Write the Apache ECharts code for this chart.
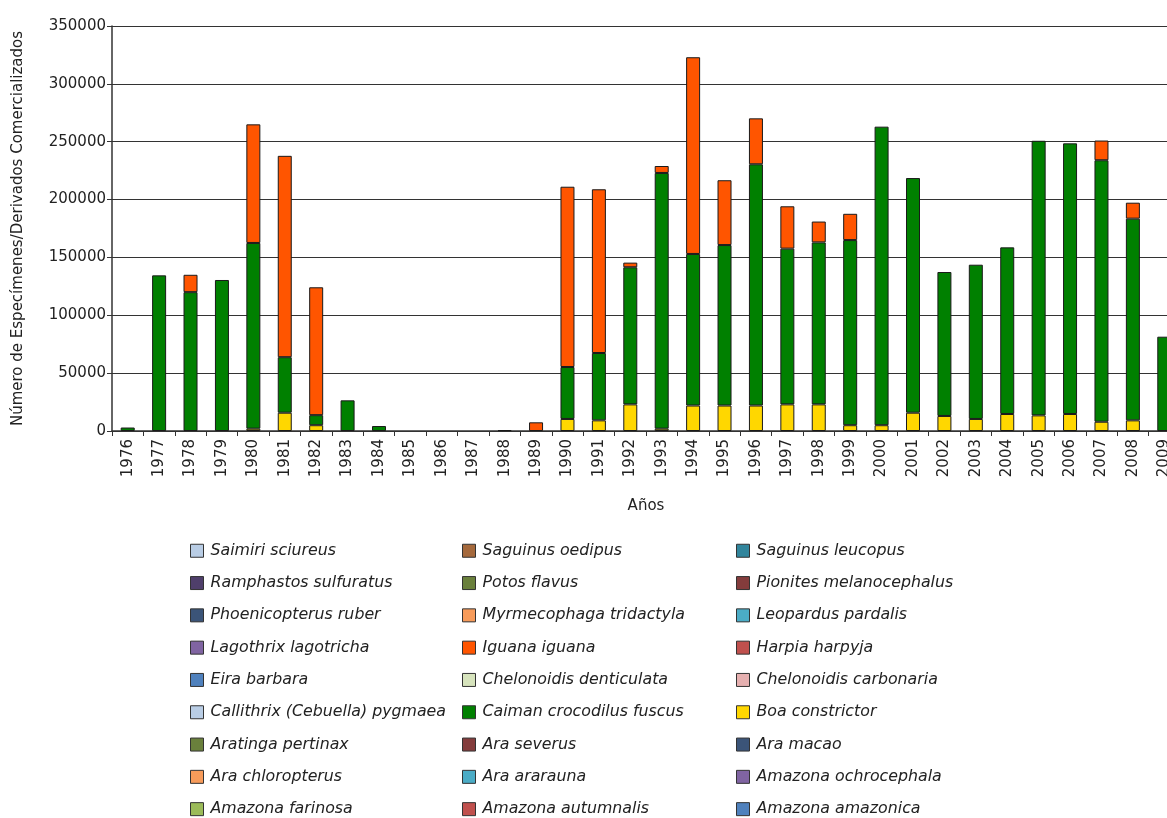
<!DOCTYPE html>
<html>
<head>
<meta charset="utf-8">
<script src="https://cdn.jsdelivr.net/npm/echarts@6/dist/echarts.min.js"></script>
<style>
  html, body { margin: 0; padding: 0; background: #fff; overflow: hidden; }
  #chart { width: 1200px; height: 818px; }
</style>
</head>
<body>
<div id="chart"></div>
<script>
// años
const years = ['1976','1977','1978','1979','1980','1981','1982','1983','1984','1985','1986','1987','1988','1989',
  '1990','1991','1992','1993','1994','1995','1996','1997','1998','1999','2000','2001','2002','2003','2004',
  '2005','2006','2007','2008','2009']

// valores (null = sin dato)
const boaConstrictor = [null, null, null, null, 2000, 15800, 5000, null, null, null, null, null, null, null,
  10400, 9200, 23000, 2000, 22000, 22000, 22000, 23000, 23000, 5000, 5000, 15800, 13000, 10400, 14700,
  13500, 14700, 8000, 9200, null]
const caimanCrocodilus = [3000, 134500, 120000, 130500, 160500, 48000, 8700, 26500, 4300, null, null, null, 800, null,
  44900, 58200, 118500, 221000, 131000, 138700, 208500, 134600, 140000, 160000, 258000, 202800, 124400, 133300, 144000,
  237300, 233900, 226000, 174300, 81500]
const iguanaIguana = [null, null, 15000, null, 102500, 174000, 110500, null, null, null, null, null, null, 7500,
  155800, 141500, 4000, 6000, 170000, 56000, 39700, 36600, 18000, 22700, null, null, null, null, null,
  null, null, 17000, 13800, null]

// especies en el orden de la leyenda (por filas)
const species = [
  'Saimiri sciureus', 'Saguinus oedipus', 'Saguinus leucopus',
  'Ramphastos sulfuratus', 'Potos flavus', 'Pionites melanocephalus',
  'Phoenicopterus ruber', 'Myrmecophaga tridactyla', 'Leopardus pardalis',
  'Lagothrix lagotricha', 'Iguana iguana', 'Harpia harpyja',
  'Eira barbara', 'Chelonoidis denticulata', 'Chelonoidis carbonaria',
  'Callithrix (Cebuella) pygmaea', 'Caiman crocodilus fuscus', 'Boa constrictor',
  'Aratinga pertinax', 'Ara severus', 'Ara macao',
  'Ara chloropterus', 'Ara ararauna', 'Amazona ochrocephala',
  'Amazona farinosa', 'Amazona autumnalis', 'Amazona amazonica'
]
const speciesColors = [
  '#b9cde5', '#a5693c', '#31859c',
  '#4f3f6b', '#6a803c', '#843c3c',
  '#3b5478', '#f79b5a', '#4bacc6',
  '#8064a2', '#ff5500', '#c0504d',
  '#4f81bd', '#d7e4bd', '#e6b0b0',
  '#b9cde5', '#008000', '#ffd700',
  '#6a803c', '#843c3c', '#3b5478',
  '#f79b5a', '#4bacc6', '#8064a2',
  '#9bbb59', '#c0504d', '#4f81bd'
]
const speciesData = {
  'Iguana iguana': iguanaIguana,
  'Caiman crocodilus fuscus': caimanCrocodilus,
  'Boa constrictor': boaConstrictor
}

const fontName = 'DejaVu Sans'
const chart = echarts.init(document.getElementById('chart'))

// la pila va en orden inverso a la leyenda
const series = species.map((name, i) => ({
  name: name,
  type: 'bar',
  stack: 'total',
  barWidth: 14,
  data: speciesData[name] || [],
  itemStyle: { color: speciesColors[i], borderColor: '#1a1a1a', borderWidth: 1 },
  emphasis: { disabled: true }
})).reverse()

const legendCol = (col, left) => ({
  orient: 'vertical',
  left: left,
  top: 536,
  height: 300,
  icon: 'rect',
  itemWidth: 13,
  itemHeight: 13,
  itemGap: 12.8,
  selectedMode: false,
  itemStyle: { borderColor: '#333', borderWidth: 1 },
  textStyle: { fontFamily: fontName, fontStyle: 'italic', fontSize: 15.8, lineHeight: 19.5, color: '#222', padding: [0, 0, 0, 2] },
  data: species.filter((s, i) => i % 3 === col)
})

const option = {
  animation: false,
  textStyle: { fontFamily: fontName },
  grid: { left: 112, top: 26, width: 1068, height: 405 },
  legend: [legendCol(0, 185), legendCol(1, 457), legendCol(2, 731)],
  xAxis: {
    type: 'category',
    data: years,
    name: 'Años',
    nameLocation: 'middle',
    nameGap: 68,
    nameTextStyle: { fontSize: 15, color: '#222' },
    axisLine: { lineStyle: { color: '#333', width: 1.5 } },
    axisTick: { show: true, length: 5, lineStyle: { color: '#333' } },
    axisLabel: { rotate: 90, fontSize: 15, color: '#222', margin: 8, interval: 0 }
  },
  yAxis: {
    type: 'value',
    min: 0,
    max: 350000,
    interval: 50000,
    name: 'Número de Especímenes/Derivados Comercializados',
    nameLocation: 'middle',
    nameGap: 86,
    nameTextStyle: { fontSize: 15, color: '#222' },
    axisLine: { show: true, lineStyle: { color: '#333', width: 1.5 } },
    axisTick: { show: true, length: 5, lineStyle: { color: '#333' } },
    axisLabel: { fontSize: 15, color: '#222', margin: 6, formatter: v => String(v) },
    splitLine: { lineStyle: { color: '#333', width: 1 } }
  },
  series: series
}

chart.setOption(option)
</script>
</body>
</html>
